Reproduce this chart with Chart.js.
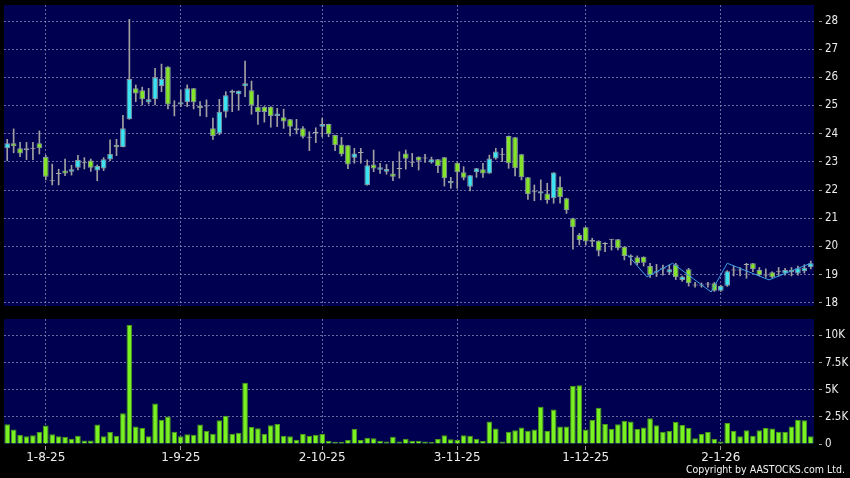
<!DOCTYPE html>
<html>
<head>
<meta charset="utf-8">
<script src="https://cdn.jsdelivr.net/npm/chart.js@4.4.1/dist/chart.umd.min.js"></script>
<style>
html,body{margin:0;padding:0;background:#000;width:850px;height:478px;overflow:hidden}
#c1{position:absolute;left:0;top:0}
#c2{position:absolute;left:0;top:312px}
#copy{position:absolute;right:5px;top:463px;color:#f2f2f2;font-family:"DejaVu Sans Condensed","DejaVu Sans",sans-serif;font-stretch:condensed;font-size:10.5px;white-space:nowrap}
</style>
</head>
<body>
<canvas id="c1" width="850" height="312"></canvas>
<canvas id="c2" width="850" height="166"></canvas>
<div id="copy">Copyright by AASTOCKS.com Ltd.</div>
<script>
// ---- data ----
const open = [23.48,23.66,23.48,23.48,23.48,23.66,23.17,22.33,22.59,22.69,
  22.65,22.79,22.97,23.05,22.69,22.76,23.08,23.60,23.53,24.51,
  25.61,25.54,25.12,25.22,25.69,26.38,24.98,25.04,25.12,25.61,
  24.98,24.98,24.19,24.01,24.78,25.52,25.40,25.68,25.54,24.96,
  24.96,24.96,24.63,24.58,24.51,24.12,24.19,23.87,24.04,24.25,
  24.34,23.95,23.62,23.59,23.15,23.33,22.17,22.91,22.72,22.65,
  22.59,22.76,23.30,22.99,23.18,23.14,22.98,23.09,23.16,22.24,
  22.97,22.63,22.12,22.63,22.74,22.59,23.12,23.27,23.92,23.87,
  23.27,22.45,21.94,21.88,21.88,21.71,22.12,21.71,21.00,20.40,
  20.68,20.16,20.20,20.10,20.25,20.25,19.99,19.61,19.61,19.63,
  19.30,19.12,19.22,19.07,19.36,18.81,19.19,18.63,18.63,18.66,
  18.69,18.42,18.60,19.16,19.16,19.36,19.40,19.16,18.98,19.08,
  19.12,19.04,19.16,19.04,19.12,19.26];
const high = [23.80,24.17,23.69,23.69,23.69,24.10,23.23,22.92,22.74,23.10,
  22.88,23.23,23.15,23.10,22.89,23.15,23.78,23.80,24.65,28.06,
  25.73,25.65,25.61,26.32,26.47,26.38,25.17,25.55,25.73,25.61,
  25.14,25.20,24.55,25.22,25.49,25.55,25.52,26.58,25.87,25.37,
  24.96,24.96,24.90,24.87,24.51,24.51,24.25,24.07,24.21,24.55,
  24.34,23.95,23.87,23.59,23.48,23.48,23.07,23.42,22.95,22.91,
  23.01,23.36,23.42,23.30,23.18,23.27,23.17,23.09,23.16,22.45,
  22.97,22.83,22.52,22.77,22.95,23.24,23.48,23.48,23.92,23.87,
  23.27,22.45,22.18,22.36,22.24,22.62,22.47,21.71,21.00,20.46,
  20.68,20.29,20.20,20.13,20.25,20.25,19.99,19.70,19.66,19.63,
  19.40,19.36,19.34,19.34,19.40,18.95,19.22,18.72,18.70,18.72,
  18.72,18.62,19.14,19.30,19.25,19.40,19.40,19.25,19.20,19.10,
  19.25,19.22,19.25,19.30,19.35,19.48];
const low = [23.04,23.32,23.18,23.08,23.08,23.28,22.36,22.18,22.18,22.51,
  22.53,22.71,22.75,22.66,22.33,22.69,23.04,23.22,23.53,24.51,
  25.14,25.02,25.05,25.02,25.49,24.88,24.63,24.96,24.96,24.88,
  24.63,24.60,23.80,23.96,24.58,24.78,24.83,25.31,24.69,24.33,
  24.41,24.23,24.25,24.19,23.92,23.99,23.84,23.40,23.68,23.89,
  23.89,23.40,23.21,22.76,22.95,22.95,22.17,22.65,22.59,22.56,
  22.33,22.42,22.74,22.83,22.71,22.98,22.95,22.62,22.14,22.06,
  22.06,22.36,21.97,22.45,22.45,22.59,23.09,23.01,22.77,22.50,
  22.36,21.67,21.62,21.65,21.53,21.53,21.53,21.17,19.90,20.05,
  20.05,19.99,19.66,19.81,19.87,19.87,19.52,19.34,19.34,19.30,
  18.90,18.93,18.98,19.00,18.82,18.76,18.59,18.55,18.55,18.55,
  18.40,18.40,18.58,18.95,18.95,18.87,19.10,18.95,18.90,18.88,
  18.95,18.98,18.95,18.98,19.05,19.20];
const close = [23.66,23.55,23.30,23.41,23.48,23.48,22.47,22.33,22.59,22.59,
  22.74,23.07,22.97,22.79,22.85,23.09,23.28,23.52,24.19,25.94,
  25.43,25.22,25.22,26.00,25.95,25.04,24.98,25.12,25.61,25.12,
  24.90,24.98,23.92,24.78,25.36,25.45,25.52,25.79,25.01,24.77,
  24.77,24.63,24.72,24.43,24.25,24.19,23.89,23.87,24.04,24.34,
  23.98,23.59,23.27,22.91,23.30,23.33,22.88,22.76,22.81,22.75,
  22.47,22.76,23.11,22.99,23.04,23.14,23.09,22.85,22.42,22.32,
  22.63,22.44,22.52,22.77,22.59,23.12,23.37,23.27,22.95,22.77,
  22.45,21.86,21.94,21.96,21.65,22.62,21.74,21.29,20.68,20.23,
  20.17,20.23,19.84,20.10,20.25,19.93,19.66,19.68,19.40,19.42,
  18.98,19.07,19.22,19.19,18.90,18.93,18.69,18.63,18.63,18.66,
  18.42,18.59,19.12,19.16,19.16,19.36,19.20,18.98,18.98,18.90,
  19.12,19.16,19.08,19.22,19.24,19.40];
const volume = [1815,1324,861,704,796,1111,1695,889,704,648,
  491,769,333,333,1787,704,1111,769,2834,10955,
  1602,1482,704,3732,2222,2528,1139,704,889,861,
  1787,1204,954,2185,2593,954,1046,5649,1574,1445,
  954,1722,1852,769,704,398,926,769,861,926,
  306,213,213,370,1389,370,583,519,306,241,
  676,241,491,306,306,241,185,463,796,426,
  370,796,769,491,278,2065,1417,241,1139,1259,
  1509,1231,1324,3426,1204,3179,1602,1602,5337,5401,
  1324,2222,3334,1852,1389,1815,2130,2065,1389,1509,
  2371,1722,1139,1204,2037,1759,1482,519,926,1111,
  463,241,1944,1204,704,1259,769,1259,1482,1417,
  1139,1111,1602,2222,2185,704];
// thin blue line drawn over the latest candles (trading-day position, price)
const lineDay = [96.5, 99.5, 103.5, 109.5, 112, 118.5, 125];
const linePrice = [19.70, 18.92, 19.40, 18.38, 19.40, 18.81, 19.40];
// date axis
const tickLabels = ['1-8-25', '1-9-25', '2-10-25', '3-11-25', '1-12-25', '2-1-26'];
const tickDay = [6, 27, 49, 70, 90, 111];
const priceTicks = [18, 19, 20, 21, 22, 23, 24, 25, 26, 27, 28];
const volumeTicks = [0, 2500, 5000, 7500, 10000];

// ---- styles ----
const NAVY = '#000050';
const GRID = 'rgba(140,140,185,0.75)';
const TICKC = '#9a9a9a';
const TXT = '#ececec';
const UP = '#3ee3f2';
const DOWN = '#84e42a';
const FLAT = '#a8a8a8';
const EDGE = '#8a98a0';
const WICK = '#a0a0a0';
const FONT = '"DejaVu Sans", sans-serif';
const FONTC = '"DejaVu Sans Condensed", "DejaVu Sans", sans-serif';

const N = open.length;
const days = open.map((_, i) => i);
const colorOf = i => close[i] > open[i] ? UP : (close[i] < open[i] ? DOWN : FLAT);

const bg = {
  id: 'bg',
  beforeDraw(chart) {
    const {ctx, chartArea: a} = chart;
    ctx.save();
    ctx.fillStyle = NAVY;
    ctx.fillRect(a.left, a.top, a.right - a.left, a.bottom - a.top);
    ctx.restore();
  }
};

const noPad = s => { s.paddingTop = 0; s.paddingBottom = 0; s.paddingLeft = 0; s.paddingRight = 0; };

const xCommon = (showLabels) => ({
  type: 'linear', min: -0.5, max: N - 0.5, offset: false,
  afterBuildTicks: s => { s.ticks = tickDay.map(v => ({value: v})); },
  afterFit: s => { s.height = showLabels ? 34 : 0; noPad(s); },
  ticks: {
    display: showLabels, autoSkip: false, maxRotation: 0, minRotation: 0,
    color: TXT, font: {family: FONT, size: 12}, padding: 1,
    callback: (v, k) => tickLabels[k]
  },
  grid: {color: GRID, offset: false, drawTicks: showLabels, tickLength: 6,
         tickColor: TICKC, tickBorderDash: [0, 2, 4, 40]},
  border: {display: false, dash: [2, 2]}
});

Chart.defaults.animation = false;

new Chart(document.getElementById('c1'), {
  type: 'bar',
  data: {
    datasets: [
      {
        type: 'line',
        data: lineDay.map((d, k) => ({x: d, y: linePrice[k]})),
        borderColor: '#3b9fe6', borderWidth: 1, pointRadius: 0, tension: 0,
        order: 0
      },
      {
        data: days.map(i => {
          const lo = Math.min(open[i], close[i]), hi = Math.max(open[i], close[i]);
          return {x: i, y: hi - lo < 0.01 ? [lo - 0.018, hi + 0.018] : [lo, hi]};
        }),
        backgroundColor: ctx => colorOf(ctx.dataIndex),
        borderColor: ctx => colorOf(ctx.dataIndex) === FLAT ? FLAT : EDGE,
        borderWidth: 1, borderSkipped: false,
        grouped: false, categoryPercentage: 1, barPercentage: 0.88,
        order: 1
      },
      {
        data: days.map(i => ({x: i, y: [low[i], high[i]]})),
        backgroundColor: WICK, borderWidth: 0,
        grouped: false, barThickness: 1,
        order: 2
      }
    ]
  },
  options: {
    responsive: false, animation: false,
    layout: {padding: {left: 4, top: 5, right: 0, bottom: 6}},
    plugins: {legend: {display: false}, tooltip: {enabled: false}},
    scales: {
      x: xCommon(false),
      y: {
        position: 'right', min: 17.883, max: 28.568,
        afterBuildTicks: s => { s.ticks = priceTicks.map(v => ({value: v})); },
        afterFit: s => { s.width = 36; noPad(s); },
        ticks: {color: TXT, font: {family: FONTC, size: 11.5}, padding: 3},
        grid: {color: GRID, tickColor: TICKC, tickLength: 8, tickBorderDash: [0, 5, 3, 40]},
        border: {display: false, dash: [2, 2]}
      }
    }
  },
  plugins: [bg]
});

new Chart(document.getElementById('c2'), {
  type: 'bar',
  data: {
    datasets: [{
      data: days.map(i => ({x: i, y: volume[i]})),
      backgroundColor: '#7af222', borderColor: '#4a9a18', borderWidth: 1,
      categoryPercentage: 1, barPercentage: 0.88
    }]
  },
  options: {
    responsive: false, animation: false,
    layout: {padding: {left: 4, top: 7, right: 0, bottom: 0}},
    plugins: {legend: {display: false}, tooltip: {enabled: false}},
    scales: {
      x: xCommon(true),
      y: {
        position: 'right', min: 0, max: 11510,
        afterBuildTicks: s => { s.ticks = volumeTicks.map(v => ({value: v})); },
        afterFit: s => { s.width = 36; noPad(s); },
        ticks: {color: TXT, font: {family: FONTC, size: 11.5}, padding: 3,
                callback: v => v === 0 ? '0' : (v / 1000) + 'K'},
        grid: {color: ctx => (ctx.tick && ctx.tick.value === 0) ? 'rgba(0,0,0,0)' : GRID,
               tickColor: TICKC, tickLength: 8, tickBorderDash: [0, 5, 3, 40]},
        border: {display: false, dash: [2, 2]}
      }
    }
  },
  plugins: [bg]
});
</script>
</body>
</html>
